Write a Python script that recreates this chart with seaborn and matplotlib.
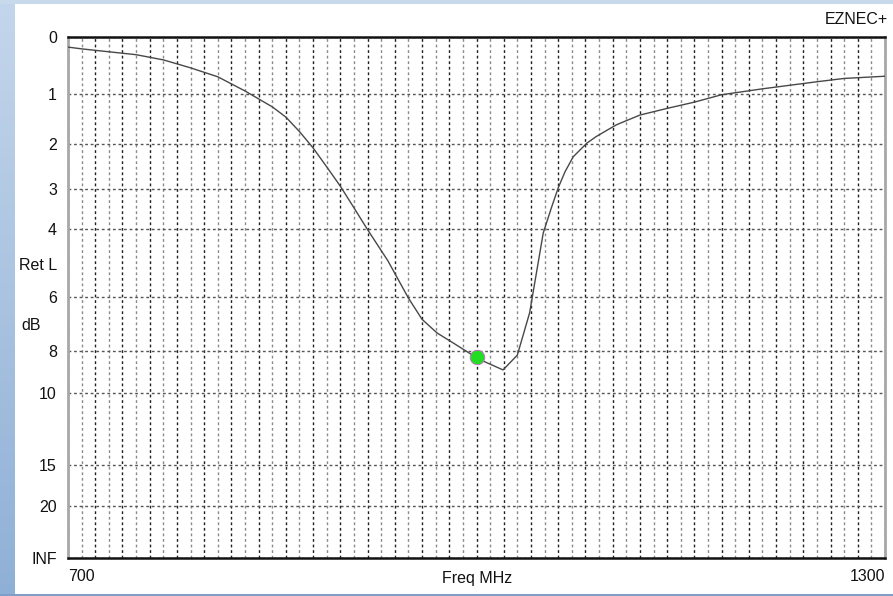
import numpy as np
import pandas as pd
import matplotlib
matplotlib.use("Agg")
import matplotlib.pyplot as plt
import seaborn as sns
from matplotlib.ticker import MultipleLocator, FixedLocator, FixedFormatter
from matplotlib.colors import LinearSegmentedColormap
import matplotlib.transforms as mtransforms

# ---------------- data ----------------
freq_mhz = [700, 710, 730, 750, 770, 790, 810, 830, 850, 860, 870, 880, 890,
            900, 910, 920, 935, 950, 960, 971, 983, 997, 1003, 1019.5, 1030,
            1039, 1049, 1055, 1060, 1065, 1071, 1081, 1088, 1096, 1103, 1111,
            1120, 1140, 1160, 1180, 1210, 1250, 1270, 1300]
ret_loss_db = [0.17, 0.20, 0.25, 0.30, 0.39, 0.53, 0.69, 0.95, 1.25, 1.45,
               1.74, 2.08, 2.49, 2.93, 3.45, 4.01, 4.88, 6.04, 6.78, 7.29,
               7.69, 8.19, 8.40, 8.85, 8.19, 6.55, 4.10, 3.45, 2.97, 2.60,
               2.27, 1.98, 1.84, 1.71, 1.60, 1.51, 1.41, 1.28, 1.16, 1.02,
               0.91, 0.78, 0.72, 0.68]
marker_freq = [1000]
marker_rl = [8.27]

INF_DB = 300.0
ytick_vals = [0, 1, 2, 3, 4, 6, 8, 10, 15, 20, INF_DB]
ytick_labels = ["0", "1", "2", "3", "4", "6", "8", "10", "15", "20", "INF"]
x_min, x_max = 700, 1300

# ---------------- style ----------------
sns.set_style("white")
plt.rcParams["font.family"] = ["Liberation Sans", "DejaVu Sans"]
FS = 11.5
plt.rcParams["font.size"] = FS

W, H = 893, 596
fig = plt.figure(figsize=(W / 100, H / 100), dpi=100)
fig.patch.set_facecolor("white")

# window frame strips
lax = fig.add_axes([0, 0, 15 / W, 1])
grad = np.linspace(0, 1, 256).reshape(-1, 1)
cm = LinearSegmentedColormap.from_list("fr", ["#8fb0d6", "#c4d6eb"])
lax.imshow(grad, aspect="auto", cmap=cm, origin="lower", extent=[0, 1, 0, 1])
lax.axis("off")
tax = fig.add_axes([0, 1 - 4 / H, 1, 4 / H])
tax.set_facecolor("#c9d9ec")
tax.set_xticks([]); tax.set_yticks([])
for s in tax.spines.values():
    s.set_visible(False)
bax = fig.add_axes([0, 0, 1, 2 / H])
bax.set_facecolor("#7f9fc8")
bax.set_xticks([]); bax.set_yticks([])
for s in bax.spines.values():
    s.set_visible(False)

# main axes
L, R, T, B = 68, 885, 37, 558
ax = fig.add_axes([L / W, 1 - B / H, (R - L) / W, (B - T) / H])
ax.set_facecolor("white")


def fwd(x):
    x = np.asarray(x, dtype=float)
    return 1.0 - np.power(10.0, -x / 20.0)


def inv(y):
    y = np.asarray(y, dtype=float)
    return -20.0 * np.log10(np.clip(1.0 - y, 1e-15, None))


ax.set_yscale("function", functions=(fwd, inv))

df = pd.DataFrame({"freq": freq_mhz, "rl": ret_loss_db})
sns.lineplot(data=df, x="freq", y="rl", ax=ax, color="#484848", lw=1.0,
             estimator=None, sort=False, zorder=5)
mdf = pd.DataFrame({"freq": marker_freq, "rl": marker_rl})
sns.scatterplot(data=mdf, x="freq", y="rl", ax=ax, s=110, color="#22dd22",
                edgecolor="#cc66cc", linewidth=0.6, zorder=6)

ax.set_xlim(x_min, x_max)
ax.set_ylim(INF_DB, 0)

# y ticks
ax.yaxis.set_major_locator(FixedLocator(ytick_vals))
ax.yaxis.set_major_formatter(FixedFormatter(ytick_labels))
ax.yaxis.set_minor_locator(FixedLocator([]))

# x ticks: major every 20 (darker grid), minor every 10 (lighter)
xmaj = list(range(x_min, x_max + 1, 20))
xlabels = ["700"] + [""] * (len(xmaj) - 2) + ["1300"]
ax.xaxis.set_major_locator(FixedLocator(xmaj))
ax.xaxis.set_major_formatter(FixedFormatter(xlabels))
ax.xaxis.set_minor_locator(MultipleLocator(10))

ax.tick_params(axis="both", which="both", length=0, labelsize=FS,
               labelcolor="#111111")
ax.tick_params(axis="y", pad=8)
ax.tick_params(axis="x", pad=8)
xt = ax.get_xticklabels()
xt[0].set_ha("left")
xt[-1].set_ha("right")

ax.grid(True, which="major", axis="x", color="#202020", lw=1.0,
        linestyle=(0, (2, 2)))
ax.grid(True, which="minor", axis="x", color="#8a8a8a", lw=1.0,
        linestyle=(0, (2, 2)))
ax.grid(True, which="major", axis="y", color="#555555", lw=1.0,
        linestyle=(0, (2, 2)))
ax.set_axisbelow(True)

for side in ["left", "right"]:
    ax.spines[side].set_color("#a8a8a8")
    ax.spines[side].set_linewidth(2)
for side in ["top", "bottom"]:
    ax.spines[side].set_color("#111111")
    ax.spines[side].set_linewidth(1.8)

ax.set_ylabel("")
ax.set_xlabel("Freq MHz", fontsize=FS, color="#111111")
ax.xaxis.set_label_coords((477 - L) / (R - L), (B - 579) / (B - T))
ax.xaxis.label.set_va("center")

blend = mtransforms.blended_transform_factory(fig.transFigure, ax.transData)
ax.text(57 / W, 5, "Ret L", transform=blend, ha="right", va="center",
        fontsize=FS, color="#111111")
ax.text(31 / W, 7, "dB", transform=blend, ha="center", va="center",
        fontsize=FS, color="#111111")

fig.text(888 / W, 1 - 19 / H, "EZNEC+", ha="right", va="center",
         fontsize=FS, color="#111111")

fig.savefig("out.png", dpi=100)
